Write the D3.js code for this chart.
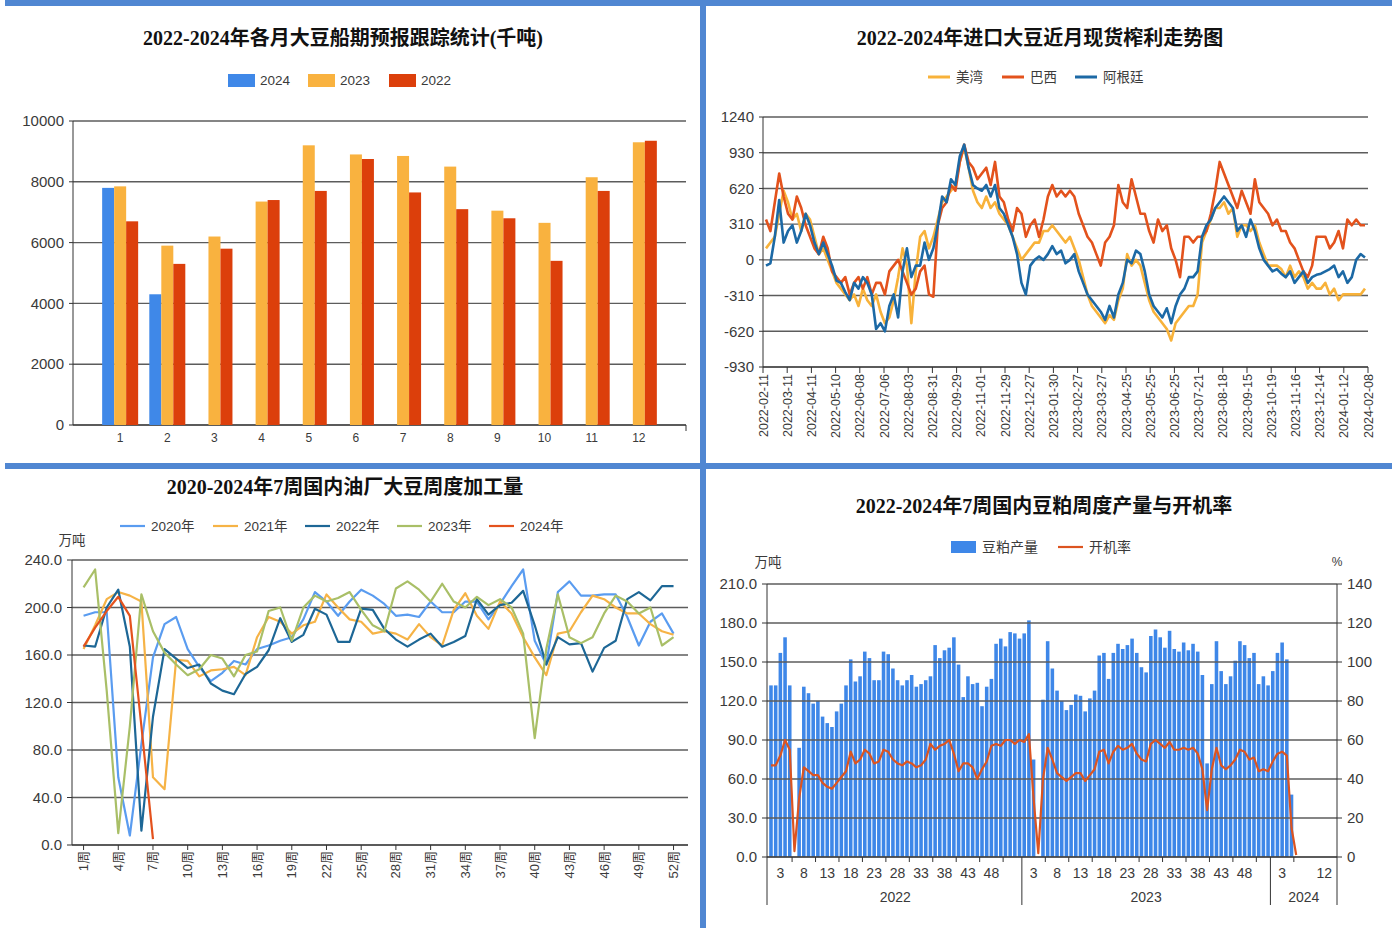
<!DOCTYPE html>
<html><head><meta charset="utf-8">
<script src="https://cdn.jsdelivr.net/npm/d3@7"></script>
<style>
html,body{margin:0;padding:0;background:#fff;}
svg{display:block;}
text{font-family:'Liberation Sans',Arial,'Noto Sans CJK SC',sans-serif;fill:#3a3a3a;}
.title{font-family:'Liberation Serif','Noto Sans CJK SC',serif;font-weight:bold;font-size:20px;fill:#111;}
</style></head><body>
<svg id="c" width="1392" height="928"></svg>
<script>
// ---------- Panel 1: monthly soybean shipment forecast (千吨)
const shipMonths = [1,2,3,4,5,6,7,8,9,10,11,12];
const ship2024 = [7800,4300];
const ship2023 = [7850,5900,6200,7350,9200,8900,8850,8500,7050,6650,8150,9300];
const ship2022 = [6700,5300,5800,7400,7700,8750,7650,7100,6800,5400,7700,9350];
const shipTicks = [0,2000,4000,6000,8000,10000];

// ---------- Panel 2: crush margin (元/吨)
const marginDates = ["2022-02-11","2022-03-11","2022-04-11","2022-05-10","2022-06-08","2022-07-06","2022-08-03","2022-08-31","2022-09-29","2022-11-01","2022-11-29","2022-12-27","2023-01-30","2023-02-27","2023-03-27","2023-04-25","2023-05-25","2023-06-25","2023-07-21","2023-08-18","2023-09-15","2023-10-19","2023-11-16","2023-12-14","2024-01-12","2024-02-08"];
const marginTicks = [-930,-620,-310,0,310,620,930,1240];
const marginUSGulf = [100,150,200,400,600,500,350,400,250,400,350,200,50,100,0,-100,-200,-250,-300,-350,-300,-400,-250,-350,-400,-300,-450,-550,-500,-350,-150,100,-50,-550,-100,200,250,100,200,350,500,550,600,650,850,980,800,600,500,450,550,450,500,400,350,300,200,100,0,50,100,150,150,250,250,300,250,200,150,200,100,0,-150,-300,-400,-450,-500,-550,-480,-520,-350,-250,50,-50,0,-50,-200,-350,-450,-500,-550,-600,-700,-550,-500,-450,-400,-400,-300,150,250,350,450,450,500,400,450,200,300,300,250,300,150,50,-50,-50,-50,-80,-150,-50,-150,-100,-150,-250,-200,-250,-250,-200,-300,-250,-350,-300,-300,-300,-300,-300,-250];
const marginBrazil = [350,250,500,750,550,400,350,550,450,300,200,100,50,200,100,-100,-150,-200,-150,-300,-200,-150,-250,-150,-300,-200,-200,-300,-100,-50,0,-100,-200,-300,-250,-100,-50,-300,-320,300,450,500,650,600,850,1000,850,800,700,750,800,650,850,550,500,350,250,450,400,200,300,350,200,350,550,650,550,600,550,600,550,400,300,200,150,50,-50,150,200,300,650,500,450,700,550,400,400,250,150,350,250,300,100,0,-150,200,200,150,200,200,250,400,600,850,750,650,550,450,600,500,400,700,500,450,400,300,350,250,250,150,100,0,-100,-150,-50,200,200,200,100,150,250,100,350,300,350,300,300];
const marginArgentina = [-50,-30,200,520,150,250,300,150,250,400,300,150,50,150,50,-50,-180,-200,-280,-350,-200,-250,-150,-200,-300,-600,-550,-620,-400,-300,-500,-100,100,-150,-50,-50,150,0,100,300,550,500,700,650,900,1000,800,650,620,600,650,550,650,450,400,300,200,50,-200,-300,-50,0,30,0,50,120,50,80,-30,0,50,-100,-200,-300,-350,-400,-450,-520,-400,-500,-300,-200,0,-30,80,50,-100,-300,-400,-450,-500,-420,-550,-400,-300,-250,-150,-150,-100,200,300,350,450,500,550,500,450,250,300,200,350,250,100,0,-50,-100,-80,-120,-150,-100,-200,-150,-100,-200,-150,-130,-120,-100,-80,-50,-150,-100,-200,-150,0,50,20];

// ---------- Panel 3: weekly soybean crush (万吨)
const crushWeekTicks = [1,4,7,10,13,16,19,22,25,28,31,34,37,40,43,46,49,52];
const crushTicks = [0,40,80,120,160,200,240];
const crush2020 = [193,196,196,57,8,85,158,186,192,165,150,138,145,155,152,165,168,172,175,190,213,205,193,205,215,210,203,193,194,192,205,196,196,205,205,190,203,218,232,172,152,213,222,210,210,211,211,192,168,188,195,178];
const crush2021 = [165,185,207,213,210,205,57,47,156,155,142,147,148,150,143,175,192,188,178,185,188,211,200,190,188,178,180,178,173,186,175,168,198,212,193,182,205,195,175,158,143,178,180,196,210,207,200,195,195,186,180,177];
const crush2022 = [168,167,200,215,167,12,108,165,157,149,152,136,130,127,144,150,164,191,171,177,199,194,171,171,199,198,182,173,167,173,178,167,171,176,207,194,202,204,214,185,152,175,169,170,146,166,172,207,213,206,218,218];
const crush2023 = [217,232,130,10,100,211,180,162,152,143,148,160,157,142,160,163,197,200,172,200,210,205,208,213,198,185,180,216,222,215,205,220,205,200,209,202,207,200,178,90,165,211,175,170,175,195,210,205,195,200,168,175];
const crush2024 = [167,183,197,209,193,100,5];

// ---------- Panel 4: weekly soymeal output (万吨) and operating rate (%)
const mealYears = ["2022","2023","2024"];
const mealAxisWeeks2024 = 14;
const meal2022 = [132,132,157,169,132,0,84,131,126,118,120,108,103,100,112,118,132,152,135,139,158,153,136,136,158,156,145,136,132,136,140,131,133,136,139,163,153,159,161,169,148,123,139,133,134,116,131,137,164,168,162,173,172,168];
const meal2023 = [172,182,75,0,121,166,145,128,120,113,117,125,124,112,122,128,155,157,137,157,164,160,163,168,157,146,142,170,175,169,161,174,160,158,165,159,164,158,140,72,133,166,143,133,139,151,166,163,153,157,133,139,132];
const meal2024 = [143,157,165,152,48,0];
const rate2022 = [47,47,52,60,55,3,30,46,44,42,42,38,36,35,38,41,44,54,48,50,55,53,48,49,55,54,50,48,47,49,48,46,47,50,58,55,57,58,60,53,44,48,48,46,40,45,49,57,58,57,60,60,58,60];
const rate2023 = [59,63,30,2,40,56,50,43,41,39,41,43,43,39,42,45,54,55,48,54,57,55,56,58,53,50,49,58,60,58,56,59,55,55,56,55,56,53,45,24,45,56,47,45,47,50,55,54,50,51,44,45,44];
const rate2024 = [49,53,54,52,15,1];
const mealWeekLabels = {"2022":[3,8,13,18,23,28,33,38,43,48],"2023":[3,8,13,18,23,28,33,38,43,48],"2024":[3,12]};
const mealTicks = [0,30,60,90,120,150,180,210];
const rateTicks = [0,20,40,60,80,100,120,140];

// ================= drawing =================
const svg = d3.select('#c');
const BORDER = '#5087d2';
const GRID = '#5c5c5c';
const AXIS = '#333';

svg.append('rect').attr('x',5).attr('y',0).attr('width',1387).attr('height',6).attr('fill',BORDER);
svg.append('rect').attr('x',5).attr('y',463).attr('width',1387).attr('height',6).attr('fill',BORDER);
svg.append('rect').attr('x',700).attr('y',0).attr('width',6).attr('height',928).attr('fill',BORDER);

function title(x,y,t){
  svg.append('text').attr('class','title').attr('x',x).attr('y',y).attr('text-anchor','middle').attr('dy','0.35em').text(t);
}
function gridLines(g, ticks, y, x0, x1){
  g.selectAll(null).data(ticks).join('line')
    .attr('x1',x0).attr('x2',x1).attr('y1',d=>y(d)).attr('y2',d=>y(d))
    .attr('stroke',GRID).attr('stroke-width',1.4);
}
function yLabels(g, ticks, y, x, fmt, anchor){
  g.selectAll(null).data(ticks).join('text')
    .attr('x',x).attr('y',d=>y(d)).attr('dy','0.35em')
    .attr('text-anchor',anchor||'end').style('font-size','15px')
    .text(fmt);
}
function vline(g,x,y0,y1,c,w){
  g.append('line').attr('x1',x).attr('x2',x).attr('y1',y0).attr('y2',y1).attr('stroke',c||AXIS).attr('stroke-width',w||1);
}
function hline(g,y,x0,x1,c,w){
  g.append('line').attr('x1',x0).attr('x2',x1).attr('y1',y).attr('y2',y).attr('stroke',c||AXIS).attr('stroke-width',w||1);
}

// ---------- Panel 1
(function(){
  const g = svg.append('g');
  const L=73,R=686,T=121,B=425;
  title(343,38,'2022-2024年各月大豆船期预报跟踪统计(千吨)');
  const x = d3.scalePoint().domain(shipMonths).range([L,R]).padding(1);
  const y = d3.scaleLinear().domain([0,10000]).range([B,T]);
  gridLines(g, shipTicks, y, L, R);
  yLabels(g, shipTicks, y, 64, d=>d);
  g.selectAll(null).data(shipTicks).join('line').attr('x1',L-4).attr('x2',L).attr('y1',d=>y(d)).attr('y2',d=>y(d)).attr('stroke',AXIS);
  vline(g,L,T,B);
  hline(g,B,L,R,AXIS,1.2);
  vline(g,R,B,B+6);
  const bw = 12;
  const series = [
    {name:'2024', data:ship2024, color:'#3f88e8', off:-1.5*bw},
    {name:'2023', data:ship2023, color:'#f9b23f', off:-0.5*bw},
    {name:'2022', data:ship2022, color:'#dc3f0b', off:0.5*bw}
  ];
  series.forEach(s=>{
    g.selectAll(null).data(s.data).join('rect')
      .attr('x',(d,i)=>x(shipMonths[i])+s.off).attr('width',bw)
      .attr('y',d=>y(d)).attr('height',d=>B-y(d)).attr('fill',s.color);
  });
  g.selectAll(null).data(shipMonths).join('text')
    .attr('x',d=>x(d)).attr('y',438).attr('dy','0.35em').attr('text-anchor','middle')
    .style('font-size','12px').text(d=>d);
  // legend
  const lx=[228,308,389];
  series.forEach((s,i)=>{
    g.append('rect').attr('x',lx[i]).attr('y',74).attr('width',27).attr('height',13).attr('fill',s.color);
    g.append('text').attr('x',lx[i]+32).attr('y',80.5).attr('dy','0.35em').style('font-size','13.5px').text(s.name);
  });
})();

// ---------- Panel 2
(function(){
  const g = svg.append('g');
  const L=763,R=1368,T=117,B=367;
  title(1040,38,'2022-2024年进口大豆近月现货榨利走势图');
  const y = d3.scaleLinear().domain([-930,1240]).range([B,T]);
  const xl = d3.scalePoint().domain(marginDates).range([L,R]);
  const n = marginArgentina.length;
  const xd = d3.scaleLinear().domain([0,n-1]).range([766,1365]);
  gridLines(g, marginTicks, y, L, R);
  yLabels(g, marginTicks, y, 754, d=>d);
  g.selectAll(null).data(marginTicks).join('line').attr('x1',L-4).attr('x2',L).attr('y1',d=>y(d)).attr('y2',d=>y(d)).attr('stroke',AXIS);
  vline(g,L,T,B);
  hline(g,B,L,R,AXIS,1.2);
  g.selectAll(null).data(marginDates).join('line')
    .attr('x1',d=>xl(d)).attr('x2',d=>xl(d)).attr('y1',B).attr('y2',B+6).attr('stroke',AXIS);
  g.selectAll(null).data(marginDates).join('text')
    .attr('transform',d=>`translate(${xl(d)+4.5},${B+7}) rotate(-90)`)
    .attr('text-anchor','end').style('font-size','12.5px').text(d=>d);
  const series = [
    {name:'美湾', data:marginUSGulf, color:'#f8b23a'},
    {name:'巴西', data:marginBrazil, color:'#e3521c'},
    {name:'阿根廷', data:marginArgentina, color:'#1c69a5'}
  ];
  const line = d3.line().x((d,i)=>xd(i)).y(d=>y(d));
  series.forEach(s=>{
    g.append('path').datum(s.data).attr('d',line).attr('fill','none')
      .attr('stroke',s.color).attr('stroke-width',2.6).attr('stroke-linejoin','round');
  });
  const lx=[928,1002,1075];
  series.forEach((s,i)=>{
    g.append('line').attr('x1',lx[i]).attr('x2',lx[i]+22).attr('y1',77).attr('y2',77).attr('stroke',s.color).attr('stroke-width',3);
    g.append('text').attr('x',lx[i]+28).attr('y',77).attr('dy','0.35em').style('font-size','13.5px').text(s.name);
  });
})();

// ---------- Panel 3
(function(){
  const g = svg.append('g');
  const L=72,R=688,T=560,B=845;
  title(345,487,'2020-2024年7周国内油厂大豆周度加工量');
  const x = d3.scaleLinear().domain([0,53.25]).range([L,R]);
  const y = d3.scaleLinear().domain([0,240]).range([B,T]);
  gridLines(g, crushTicks, y, L, R);
  yLabels(g, crushTicks, y, 62, d=>d.toFixed(1));
  g.selectAll(null).data(crushTicks).join('line').attr('x1',L-5).attr('x2',L).attr('y1',d=>y(d)).attr('y2',d=>y(d)).attr('stroke',AXIS);
  vline(g,L,T,B);
  hline(g,B,L,R,AXIS,1.2);
  g.selectAll(null).data(crushWeekTicks).join('line')
    .attr('x1',d=>x(d)).attr('x2',d=>x(d)).attr('y1',B).attr('y2',B+5).attr('stroke',AXIS);
  g.selectAll(null).data(crushWeekTicks).join('text')
    .attr('transform',d=>`translate(${x(d)+4.5},${B+6}) rotate(-90)`)
    .attr('text-anchor','end').style('font-size','13px').text(d=>d+'周');
  g.append('text').attr('x',72).attr('y',540).attr('dy','0.35em').attr('text-anchor','middle').style('font-size','13.5px').text('万吨');
  const series = [
    {name:'2020年', data:crush2020, color:'#5a9cf0'},
    {name:'2021年', data:crush2021, color:'#f6b346'},
    {name:'2022年', data:crush2022, color:'#1d6796'},
    {name:'2023年', data:crush2023, color:'#a9bf67'},
    {name:'2024年', data:crush2024, color:'#e4521d'}
  ];
  const line = d3.line().x((d,i)=>x(i+1)).y(d=>y(d));
  series.forEach(s=>{
    g.append('path').datum(s.data).attr('d',line).attr('fill','none')
      .attr('stroke',s.color).attr('stroke-width',2.2).attr('stroke-linejoin','round');
  });
  const lx=[120,213,305,397,489];
  series.forEach((s,i)=>{
    g.append('line').attr('x1',lx[i]).attr('x2',lx[i]+25).attr('y1',526).attr('y2',526).attr('stroke',s.color).attr('stroke-width',2.2);
    g.append('text').attr('x',lx[i]+31).attr('y',526).attr('dy','0.35em').style('font-size','13.5px').text(s.name);
  });
})();

// ---------- Panel 4
(function(){
  const g = svg.append('g');
  const L=767,R=1337,T=584,B=857;
  title(1044,506,'2022-2024年7周国内豆粕周度产量与开机率');
  const mealData = [meal2022, meal2023, meal2024];
  const rateData = [rate2022, rate2023, rate2024];
  // slot offsets of each year on the continuous week axis
  const yearSlots = [meal2022.length, meal2023.length, mealAxisWeeks2024];
  const offsets = [0, yearSlots[0], yearSlots[0]+yearSlots[1]];
  const total = yearSlots[0]+yearSlots[1]+yearSlots[2];
  const x = d3.scaleLinear().domain([-0.85, total-0.3]).range([L,R]);
  const step = x(1)-x(0);
  const y = d3.scaleLinear().domain([0,210]).range([B,T]);
  const yr = d3.scaleLinear().domain([0,140]).range([B,T]);
  const bars = [], rates = [];
  mealData.forEach((arr,yi)=>arr.forEach((v,i)=>bars.push({k:offsets[yi]+i, v})));
  rateData.forEach((arr,yi)=>arr.forEach((v,i)=>rates.push({k:offsets[yi]+i, v})));
  const bw = step*0.76;
  g.selectAll(null).data(bars.filter(d=>d.v>0)).join('rect')
    .attr('x',d=>x(d.k)-bw/2).attr('width',bw)
    .attr('y',d=>y(d.v)).attr('height',d=>B-y(d.v)).attr('fill','#3e87e8');
  gridLines(g, mealTicks, y, L, R);
  yLabels(g, mealTicks, y, 757, d=>d.toFixed(1));
  yLabels(g, rateTicks, yr, 1347, d=>d, 'start');
  g.selectAll(null).data(mealTicks).join('line').attr('x1',L-5).attr('x2',L).attr('y1',d=>y(d)).attr('y2',d=>y(d)).attr('stroke',AXIS);
  g.selectAll(null).data(rateTicks).join('line').attr('x1',R).attr('x2',R+5).attr('y1',d=>yr(d)).attr('y2',d=>yr(d)).attr('stroke',AXIS);
  vline(g,L,T,B+48);
  vline(g,R,T,B+48);
  hline(g,B,L,R,AXIS,1.2);
  g.append('path').datum(rates).attr('d',d3.line().x(d=>x(d.k)).y(d=>yr(d.v)))
    .attr('fill','none').attr('stroke','#dc5420').attr('stroke-width',2.2).attr('stroke-linejoin','round');
  // year separators, week labels, year labels
  mealYears.forEach((yrName,yi)=>{
    const start = x(offsets[yi]-0.5), end = yi<2 ? x(offsets[yi+1]-0.5) : R;
    if (yi>0) vline(g,start,B,B+48);
    const wk = mealWeekLabels[yrName];
    g.selectAll(null).data(wk).join('text')
      .attr('x',d=>x(offsets[yi]+d-1)).attr('y',873).attr('dy','0.35em').attr('text-anchor','middle')
      .style('font-size','14px').text(d=>d);
    g.selectAll(null).data(wk.slice(0, yi<2 ? wk.length : 1)).join('line')
      .attr('x1',d=>x(offsets[yi]+d+1.5)).attr('x2',d=>x(offsets[yi]+d+1.5))
      .attr('y1',B).attr('y2',B+5).attr('stroke',AXIS);
    g.append('text').attr('x',(start+end)/2).attr('y',897).attr('dy','0.35em').attr('text-anchor','middle')
      .style('font-size','14px').text(yrName);
  });
  g.append('text').attr('x',768).attr('y',562).attr('dy','0.35em').attr('text-anchor','middle').style('font-size','13.5px').text('万吨');
  g.append('text').attr('x',1337).attr('y',562).attr('dy','0.35em').attr('text-anchor','middle').style('font-size','12px').text('%');
  g.append('rect').attr('x',951).attr('y',541).attr('width',25).attr('height',12).attr('fill','#3e87e8');
  g.append('text').attr('x',982).attr('y',547).attr('dy','0.35em').style('font-size','14px').text('豆粕产量');
  g.append('line').attr('x1',1058).attr('x2',1083).attr('y1',547).attr('y2',547).attr('stroke','#dc5420').attr('stroke-width',2.2);
  g.append('text').attr('x',1089).attr('y',547).attr('dy','0.35em').style('font-size','14px').text('开机率');
})();
</script></body></html>
